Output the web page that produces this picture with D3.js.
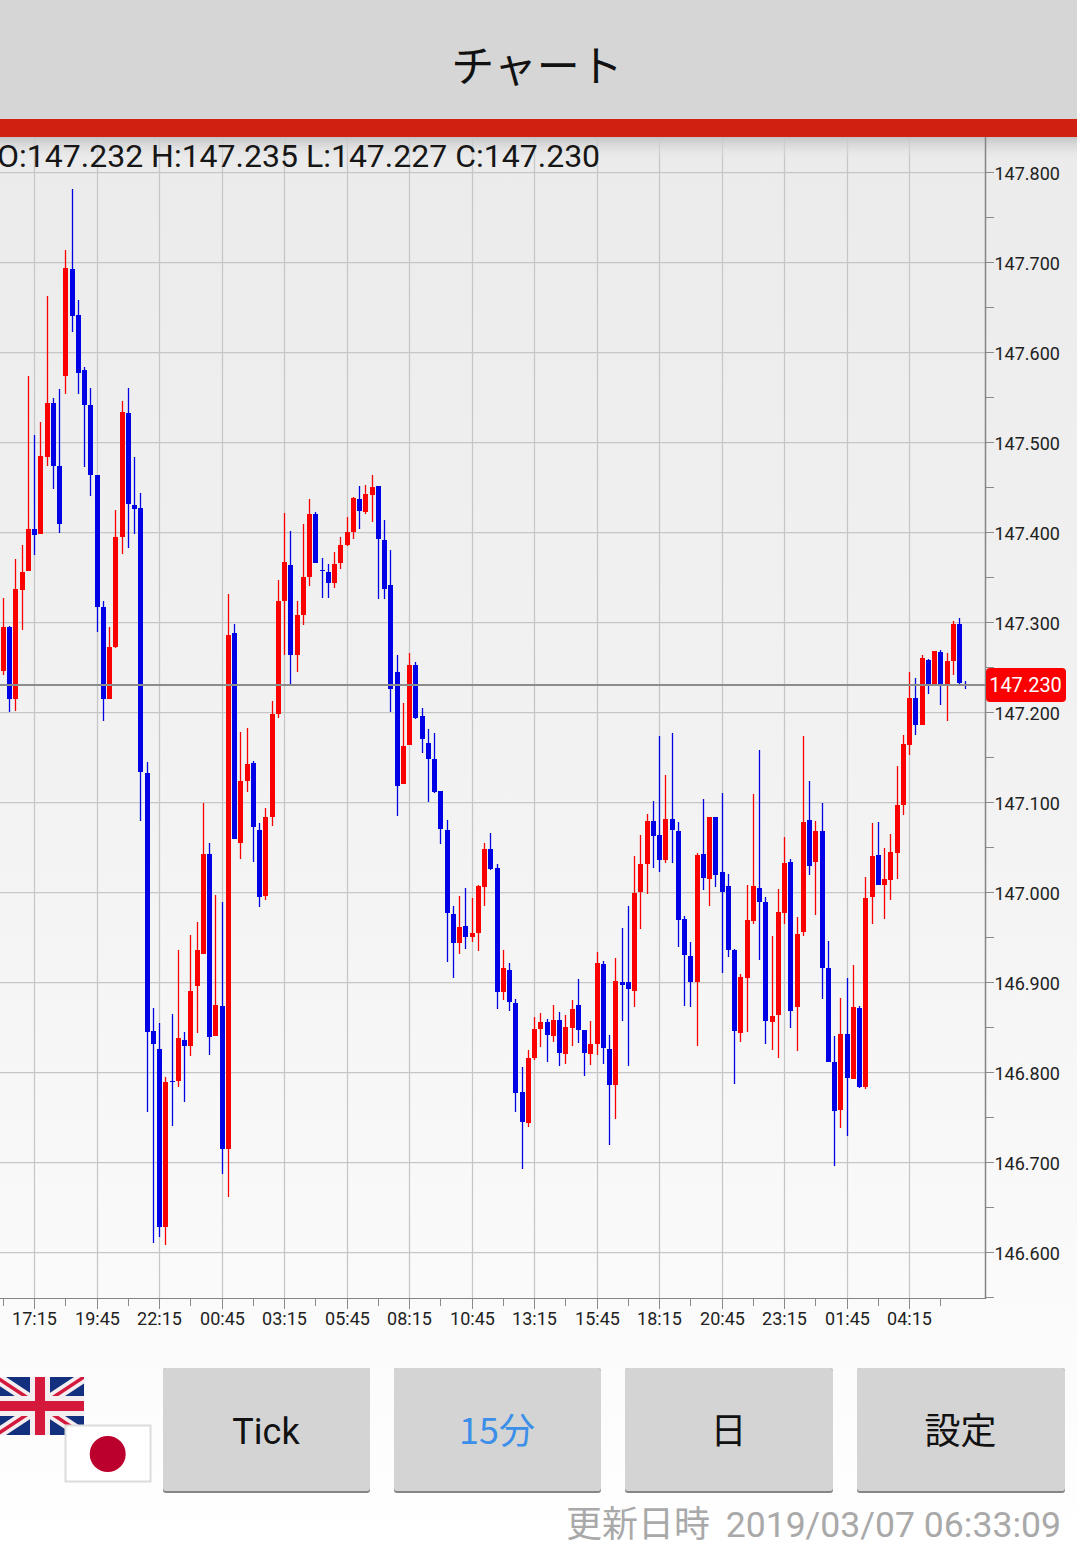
<!DOCTYPE html>
<html lang="ja"><head><meta charset="utf-8">
<script src="https://cdnjs.cloudflare.com/ajax/libs/d3/7.8.5/d3.min.js"></script>
<style>html,body{margin:0;padding:0;background:#fff}svg{display:block}</style>
</head><body><div id="chart"></div>
<script>
const highs=[147.328,147.297,147.371,147.387,147.574,147.509,147.523,147.663,147.550,147.560,
147.714,147.782,147.659,147.584,147.561,147.465,147.325,147.296,147.425,147.547,
147.561,147.484,147.445,147.146,146.872,146.856,146.796,146.866,146.937,146.846,
146.953,146.968,147.100,147.056,146.998,146.990,147.332,147.299,147.179,147.183,
147.147,147.078,147.095,147.213,147.348,147.422,147.402,147.325,147.410,147.438,
147.423,147.372,147.365,147.379,147.395,147.418,147.440,147.452,147.453,147.464,
147.452,147.414,147.381,147.265,147.211,147.267,147.257,147.205,147.182,147.178,
147.113,147.081,146.986,146.997,147.006,146.994,147.009,147.056,147.067,147.032,
146.937,146.922,146.882,146.807,146.826,146.862,146.867,146.860,146.876,146.868,
146.864,146.881,146.904,146.848,146.858,146.934,146.924,146.842,146.928,146.961,
146.986,147.041,147.064,147.088,147.102,147.174,147.131,147.178,147.079,146.974,
146.946,147.044,147.104,147.084,147.084,147.111,147.021,146.938,146.910,147.009,
147.110,147.159,146.996,146.952,147.004,147.062,147.038,146.973,147.174,147.125,
147.080,147.100,146.947,146.841,146.883,146.906,146.920,146.874,147.018,147.078,
147.079,147.050,147.066,147.141,147.176,147.245,147.239,147.265,147.260,147.269,
147.270,147.267,147.302,147.306,147.235];
const opens=[147.247,147.296,147.216,147.337,147.358,147.405,147.399,147.484,147.544,147.474,
147.575,147.693,147.642,147.581,147.542,147.464,147.318,147.216,147.273,147.395,
147.533,147.431,147.428,147.133,146.847,146.827,146.629,146.791,146.791,146.837,
146.830,146.897,146.932,147.043,146.841,146.874,146.716,147.289,147.056,147.125,
147.144,147.070,146.997,147.084,147.199,147.324,147.364,147.264,147.309,147.351,
147.421,147.359,147.357,147.345,147.367,147.387,147.401,147.438,147.423,147.442,
147.452,147.392,147.342,147.245,147.121,147.164,147.253,147.197,147.167,147.149,
147.113,147.070,146.977,146.944,146.963,146.951,146.956,147.007,147.049,147.028,
146.890,146.914,146.878,146.779,146.744,146.817,146.849,146.857,146.841,146.859,
146.821,146.850,146.876,146.848,146.821,146.832,146.921,146.827,146.787,146.901,
146.901,146.891,147.001,147.032,147.080,147.064,147.037,147.082,147.069,146.971,
146.930,146.901,147.043,147.016,147.084,147.023,147.008,146.937,146.844,146.906,
146.969,147.006,146.990,146.857,146.864,146.978,147.034,146.873,146.957,147.081,
147.035,147.069,146.917,146.812,146.759,146.843,146.793,146.872,146.784,146.996,
147.042,147.009,147.014,147.044,147.098,147.164,147.217,147.187,147.259,147.232,
147.268,147.232,147.258,147.299,147.232];
const lows=[147.242,147.201,147.202,147.292,147.358,147.376,147.399,147.474,147.449,147.400,
147.554,147.623,147.554,147.473,147.441,147.290,147.191,147.216,147.272,147.377,
147.383,147.399,147.080,146.757,146.611,146.618,146.609,146.741,146.784,146.768,
146.819,146.844,146.932,146.820,146.841,146.688,146.662,147.060,147.038,147.112,
147.035,146.984,146.992,147.075,147.194,147.265,147.232,147.245,147.298,147.341,
147.367,147.328,147.328,147.339,147.360,147.386,147.393,147.405,147.421,147.412,
147.327,147.327,147.201,147.085,147.121,147.164,147.193,147.156,147.101,147.111,
147.054,146.923,146.906,146.932,146.938,146.946,146.936,146.986,147.026,146.871,
146.881,146.869,146.757,146.693,146.740,146.814,146.829,146.812,146.834,146.808,
146.810,146.830,146.833,146.797,146.809,146.820,146.810,146.720,146.749,146.858,
146.808,146.873,146.960,146.999,147.028,147.023,147.033,147.033,146.940,146.874,
146.873,146.830,147.003,146.986,147.007,146.911,146.929,146.788,146.834,146.846,
146.966,146.926,146.832,146.826,146.817,146.966,146.850,146.824,146.952,147.020,
146.976,146.882,146.812,146.697,146.739,146.730,146.793,146.783,146.782,146.966,
147.009,146.971,146.992,147.016,147.087,147.153,147.176,147.187,147.221,147.232,
147.209,147.191,147.242,147.232,147.227];
const closes=[147.296,147.216,147.338,147.357,147.405,147.398,147.486,147.544,147.474,147.410,
147.694,147.641,147.578,147.542,147.464,147.318,147.216,147.273,147.395,147.534,
147.432,147.427,147.134,146.846,146.832,146.629,146.790,146.790,146.839,146.830,
146.891,146.937,147.043,146.840,146.876,146.716,147.287,147.060,147.124,147.143,
147.073,146.996,147.084,147.199,147.324,147.368,147.264,147.309,147.351,147.421,
147.367,147.358,147.345,147.365,147.387,147.401,147.439,147.424,147.443,147.451,
147.393,147.338,147.227,147.119,147.163,147.253,147.195,147.171,147.149,147.112,
147.071,146.978,146.944,146.962,146.951,146.956,147.008,147.049,147.027,146.890,
146.917,146.879,146.778,146.746,146.817,146.849,146.857,146.842,146.859,146.822,
146.851,146.871,146.848,146.822,146.832,146.922,146.828,146.787,146.902,146.898,
146.893,147.000,147.032,147.080,147.063,147.037,147.082,147.070,146.970,146.931,
146.901,147.042,147.017,147.084,147.020,147.001,146.937,146.847,146.907,146.970,
147.008,146.990,146.858,146.863,146.979,147.033,146.869,146.954,147.079,147.030,
147.069,146.917,146.812,146.758,146.843,146.794,146.873,146.784,146.994,147.041,
147.009,147.016,147.046,147.098,147.166,147.217,147.187,147.261,147.232,147.269,
147.232,147.258,147.299,147.233,147.230];
const timeLabels=["17:15","19:45","22:15","00:45","03:15","05:45","08:15","10:45","13:15","15:45","18:15","20:45","23:15","01:45","04:15"];
const priceLabels=["147.800","147.700","147.600","147.500","147.400","147.300","147.200","147.100","147.000","146.900","146.800","146.700","146.600"];
const ohlcText="O:147.232 H:147.235 L:147.227 C:147.230";
const lastPrice=147.230;
const buttons=["Tick","15分","日","設定"];

const W=1077,H=1551,axisX=985,axisY=1298,top0=137;
const RED="#fb0000",BLUE="#0000e6";
const sans="Roboto,'Noto Sans CJK JP',sans-serif";
const svg=d3.select("#chart").append("svg").attr("width",W).attr("height",H).attr("font-family",sans);
const defs=svg.append("defs");
const bg=defs.append("linearGradient").attr("id","bg").attr("x1",0).attr("x2",0).attr("y1",0).attr("y2",1);
bg.append("stop").attr("offset",0).attr("stop-color","#ebebeb");
bg.append("stop").attr("offset",0.5).attr("stop-color","#f3f3f3");
bg.append("stop").attr("offset",0.85).attr("stop-color","#fbfbfb");
bg.append("stop").attr("offset",1).attr("stop-color","#ffffff");
const sh=defs.append("linearGradient").attr("id","sh").attr("x1",0).attr("x2",0).attr("y1",0).attr("y2",1);
sh.append("stop").attr("offset",0).attr("stop-color","#c4c4c4").attr("stop-opacity",1);
sh.append("stop").attr("offset",1).attr("stop-color","#ebebeb").attr("stop-opacity",0);

svg.append("rect").attr("x",0).attr("y",top0).attr("width",W).attr("height",H-top0).attr("fill","url(#bg)");

const y=d3.scaleLinear().domain([146.6,147.8]).range([1253,173]);
const x=d3.scaleLinear().domain([0,150]).range([3.3,940.8]);
const px=i=>Math.floor(x(i));

const timeIdx=timeLabels.map((_,k)=>5+k*10);
const allTimeTicks=d3.range(0,151,5);
const priceVals=priceLabels.map(Number);
const allPriceTicks=d3.range(0,26).map(k=>+(146.55+k*0.05).toFixed(2));

// grid
const grid=svg.append("g").attr("stroke","#c6c6c6").attr("stroke-width",1.25);
grid.selectAll("line.h").data(priceVals).join("line").attr("class","h")
  .attr("x1",0).attr("x2",axisX).attr("y1",d=>Math.round(y(d))-0.5).attr("y2",d=>Math.round(y(d))-0.5);
grid.selectAll("line.v").data(timeIdx).join("line").attr("class","v")
  .attr("x1",d=>px(d)+0.5).attr("x2",d=>px(d)+0.5).attr("y1",top0).attr("y2",axisY);

// shadow under red bar
svg.append("rect").attr("x",0).attr("y",top0).attr("width",W).attr("height",24).attr("fill","url(#sh)");

// candles
const candles=opens.map((o,i)=>({i,o,h:highs[i],l:lows[i],c:closes[i]}));
const col=d=>d.c>=d.o?RED:BLUE;
const wg=svg.append("g");
wg.selectAll("rect").data(candles).join("rect")
  .attr("x",d=>px(d.i)-0.15).attr("width",1.3)
  .attr("y",d=>Math.round(y(d.h))).attr("height",d=>Math.max(1,Math.round(y(d.l))-Math.round(y(d.h))))
  .attr("fill",col);
const cg=svg.append("g").attr("shape-rendering","crispEdges");
cg.selectAll("rect").data(candles).join("rect")
  .attr("x",d=>px(d.i)-2).attr("width",5)
  .attr("y",d=>Math.round(y(Math.max(d.o,d.c))))
  .attr("height",d=>Math.max(1,Math.round(y(Math.min(d.o,d.c)))-Math.round(y(Math.max(d.o,d.c)))))
  .attr("fill",col);

// current price line
svg.append("rect").attr("x",0).attr("width",axisX).attr("y",Math.round(y(lastPrice))-2).attr("height",2)
  .attr("fill","#8c8c8c").attr("shape-rendering","crispEdges");

// axes
const yAxis=d3.axisRight(y).tickValues(allPriceTicks).tickSize(8).tickPadding(1)
  .tickFormat(d=>{const s=d.toFixed(3);return priceLabels.includes(s)?s:"";});
const ya=svg.append("g").attr("transform",`translate(${axisX+0.5},-1)`).call(yAxis);
ya.select(".domain").remove();
ya.selectAll("line").attr("stroke","#8a8a8a").attr("shape-rendering","crispEdges");
ya.selectAll("text").attr("font-size",18).attr("fill","#222").attr("font-family",sans).attr("dy","0.43em");
svg.append("line").attr("x1",axisX+0.5).attr("x2",axisX+0.5).attr("y1",top0).attr("y2",axisY+1)
  .attr("stroke","#858585").attr("stroke-width",1.5);

const xAxis=d3.axisBottom(x).tickValues(allTimeTicks).tickSize(9).tickPadding(2)
  .tickFormat(d=>{const k=timeIdx.indexOf(d);return k>=0?timeLabels[k]:"";});
const xa=svg.append("g").attr("transform",`translate(0,${axisY+0.5})`).call(xAxis);
xa.select(".domain").remove();
xa.selectAll(".tick").attr("transform",d=>`translate(${px(d)+0.5},0)`);
xa.selectAll("line").attr("stroke","#8a8a8a").attr("shape-rendering","crispEdges")
  .attr("y2",d=>timeIdx.includes(d)?10:7);
xa.selectAll("text").attr("font-size",18).attr("fill","#222").attr("font-family",sans).attr("y",14).attr("dy","0.71em");
svg.append("line").attr("x1",0).attr("x2",axisX).attr("y1",axisY+0.5).attr("y2",axisY+0.5)
  .attr("stroke","#858585").attr("stroke-width",1.2);

// price tag
const ty=y(lastPrice);
svg.append("rect").attr("x",986).attr("y",668).attr("width",80).attr("height",34).attr("rx",4).attr("fill","#fb0000");
svg.append("text").attr("x",1025.5).attr("y",ty-1).attr("dy","0.35em").attr("text-anchor","middle")
  .attr("font-size",20).attr("fill","#fff").text(lastPrice.toFixed(3));

// OHLC text
svg.append("text").attr("x",-3).attr("y",167).attr("font-size",32).attr("fill","#161616").text(ohlcText);

// header
svg.append("rect").attr("x",0).attr("y",0).attr("width",W).attr("height",119).attr("fill","#d6d6d6");
svg.append("rect").attr("x",0).attr("y",119).attr("width",W).attr("height",18).attr("fill","#cf2012");
svg.append("text").attr("x",537).attr("y",82).attr("text-anchor","middle").attr("font-size",43)
  .attr("font-family","'Noto Sans CJK JP',sans-serif").attr("fill","#111").text("チャート");

// flags
const uk=svg.append("g");
const cp=defs.append("clipPath").attr("id","ukc");
cp.append("rect").attr("x",0).attr("y",1377).attr("width",84).attr("height",58);
uk.attr("clip-path","url(#ukc)");
uk.append("rect").attr("x",-4).attr("y",1377).attr("width",88).attr("height",58).attr("fill","#12307e");
[[-4,1377,84,1435],[-4,1435,84,1377]].forEach(l=>{
  uk.append("line").attr("x1",l[0]).attr("y1",l[1]).attr("x2",l[2]).attr("y2",l[3]).attr("stroke","#f4eef0").attr("stroke-width",11);
  uk.append("line").attr("x1",l[0]).attr("y1",l[1]).attr("x2",l[2]).attr("y2",l[3]).attr("stroke","#d5193c").attr("stroke-width",3.5);
});
uk.append("rect").attr("x",-4).attr("y",1396).attr("width",88).attr("height",20).attr("fill","#f4eef0");
uk.append("rect").attr("x",30).attr("y",1377).attr("width",20).attr("height",58).attr("fill","#f4eef0");
uk.append("rect").attr("x",-4).attr("y",1401).attr("width",88).attr("height",10).attr("fill","#d5193c");
uk.append("rect").attr("x",35).attr("y",1377).attr("width",10).attr("height",58).attr("fill","#d5193c");
svg.append("rect").attr("x",65.5).attr("y",1425.5).attr("width",85).attr("height",56).attr("fill","#fff").attr("stroke","#dcdcdc").attr("stroke-width",2);
svg.append("circle").attr("cx",107.7).attr("cy",1454).attr("r",18).attr("fill","#bc002d");

// buttons
const bx=[163,394,625,857],bw=[207,207,208,208];
const bg2=svg.append("g");
bg2.selectAll("rect.s").data(buttons).join("rect").attr("class","s")
  .attr("x",(d,i)=>bx[i]).attr("y",1368).attr("width",(d,i)=>bw[i]).attr("height",125).attr("rx",3).attr("fill","#858585");
bg2.selectAll("rect.f").data(buttons).join("rect").attr("class","f")
  .attr("x",(d,i)=>bx[i]).attr("y",1368).attr("width",(d,i)=>bw[i]).attr("height",123).attr("rx",3).attr("fill","#d4d4d4");
bg2.selectAll("text").data(buttons).join("text")
  .attr("x",(d,i)=>bx[i]+bw[i]/2-0.5).attr("y",1444).attr("text-anchor","middle")
  .attr("font-size",36).attr("fill",d=>d==="15分"?"#3b8fe8":"#111")
  .attr("font-family",d=>d==="Tick"?"Roboto,sans-serif":"'Noto Sans CJK JP',sans-serif").text(d=>d);

// footer
const ft=svg.append("text").attr("y",1537).attr("font-size",36).attr("fill","#a9a9a9").attr("font-family",sans);
ft.append("tspan").attr("x",566).text("更新日時");
ft.append("tspan").attr("x",1061).attr("text-anchor","end").attr("font-size",35.6).text("2019/03/07 06:33:09");
</script></body></html>
